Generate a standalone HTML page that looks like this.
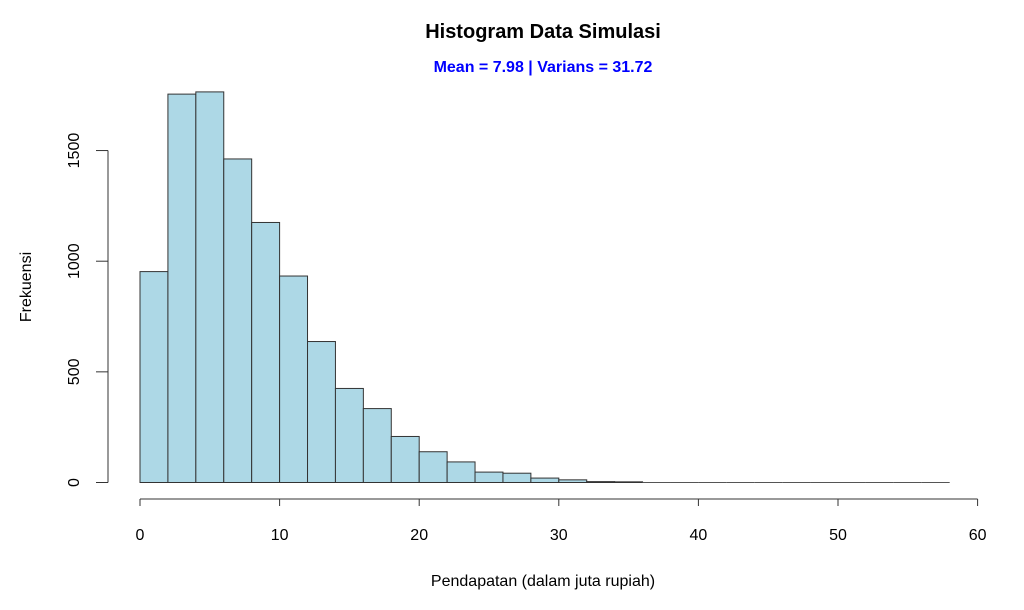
<!DOCTYPE html>
<html><head><meta charset="utf-8"><style>
html,body{margin:0;padding:0;background:#fff}
svg{display:block;font-family:"Liberation Sans",Arial,sans-serif}
</style></head><body>
<svg width="1024" height="610" viewBox="0 0 1024 610">
<text x="543" y="38" text-anchor="middle" font-size="20" font-weight="bold" fill="#000">Histogram Data Simulasi</text>
<text x="543" y="72" text-anchor="middle" font-size="16" font-weight="bold" fill="#0000ff">Mean = 7.98 | Varians = 31.72</text>
<g id="bars"></g>
<g id="xaxis"></g>
<g id="yaxis"></g>
<text x="543" y="586" text-anchor="middle" font-size="16" fill="#000">Pendapatan (dalam juta rupiah)</text>
<text x="0" y="0" transform="translate(31,287) rotate(-90)" text-anchor="middle" font-size="16" fill="#000">Frekuensi</text>
</svg>
<script>
const binEdges = [0,2,4,6,8,10,12,14,16,18,20,22,24,26,28,30,32,34,36,38,40,42,44,46,48,50,52,54,56,58];
const counts = [953,1755,1765,1462,1175,933,637,425,334,208,139,93,47,42,20,12,4,3,2,0,0,0,0,0,0,0,0,0,0];
const xTicks = [0,10,20,30,40,50,60];
const yTicks = [0,500,1000,1500];
const NS="http://www.w3.org/2000/svg";
function sx(v){return 140+v*13.96;}
function sy(v){return 482.5-v*0.2213;}
function line(p,x1,y1,x2,y2){const l=document.createElementNS(NS,'line');l.setAttribute('x1',x1);l.setAttribute('y1',y1);l.setAttribute('x2',x2);l.setAttribute('y2',y2);l.setAttribute('stroke','#333');l.setAttribute('stroke-width','1');p.appendChild(l);return l;}
const bars=document.getElementById('bars');
for(let i=0;i<counts.length;i++){
  const x0=sx(binEdges[i]),x1=sx(binEdges[i+1]);
  const y=sy(counts[i]);
  const h=sy(0)-y;
  if(h<0.5){
    const l=line(bars,x0,sy(0),x1,sy(0));
    l.setAttribute('stroke','#555');
    
    
    continue;
  }
  const r=document.createElementNS(NS,'rect');
  r.setAttribute('x',x0);r.setAttribute('y',y);
  r.setAttribute('width',x1-x0);r.setAttribute('height',h);
  r.setAttribute('fill','#add8e6');r.setAttribute('stroke','#333');r.setAttribute('stroke-width','1');
  
  
  bars.appendChild(r);
}
const xa=document.getElementById('xaxis');
const xl=line(xa,sx(xTicks[0]),499,sx(xTicks[xTicks.length-1]),499);


xTicks.forEach(t=>{
  const tk=line(xa,sx(t),499,sx(t),506);
  
  
  const tx=document.createElementNS(NS,'text');
  tx.setAttribute('x',sx(t));tx.setAttribute('y',540);tx.setAttribute('text-anchor','middle');tx.setAttribute('font-size','16');
  tx.textContent=t;
  
  
  xa.appendChild(tx);
});
const ya=document.getElementById('yaxis');
const yl=line(ya,108,sy(yTicks[0]),108,sy(yTicks[yTicks.length-1]));


yTicks.forEach(t=>{
  const tk=line(ya,96,sy(t),108,sy(t));
  
  
  const tx=document.createElementNS(NS,'text');
  tx.setAttribute('transform','translate(79,'+sy(t)+') rotate(-90)');
  tx.setAttribute('text-anchor','middle');tx.setAttribute('font-size','16');
  tx.textContent=t;
  
  
  ya.appendChild(tx);
});
</script>
</body></html>
